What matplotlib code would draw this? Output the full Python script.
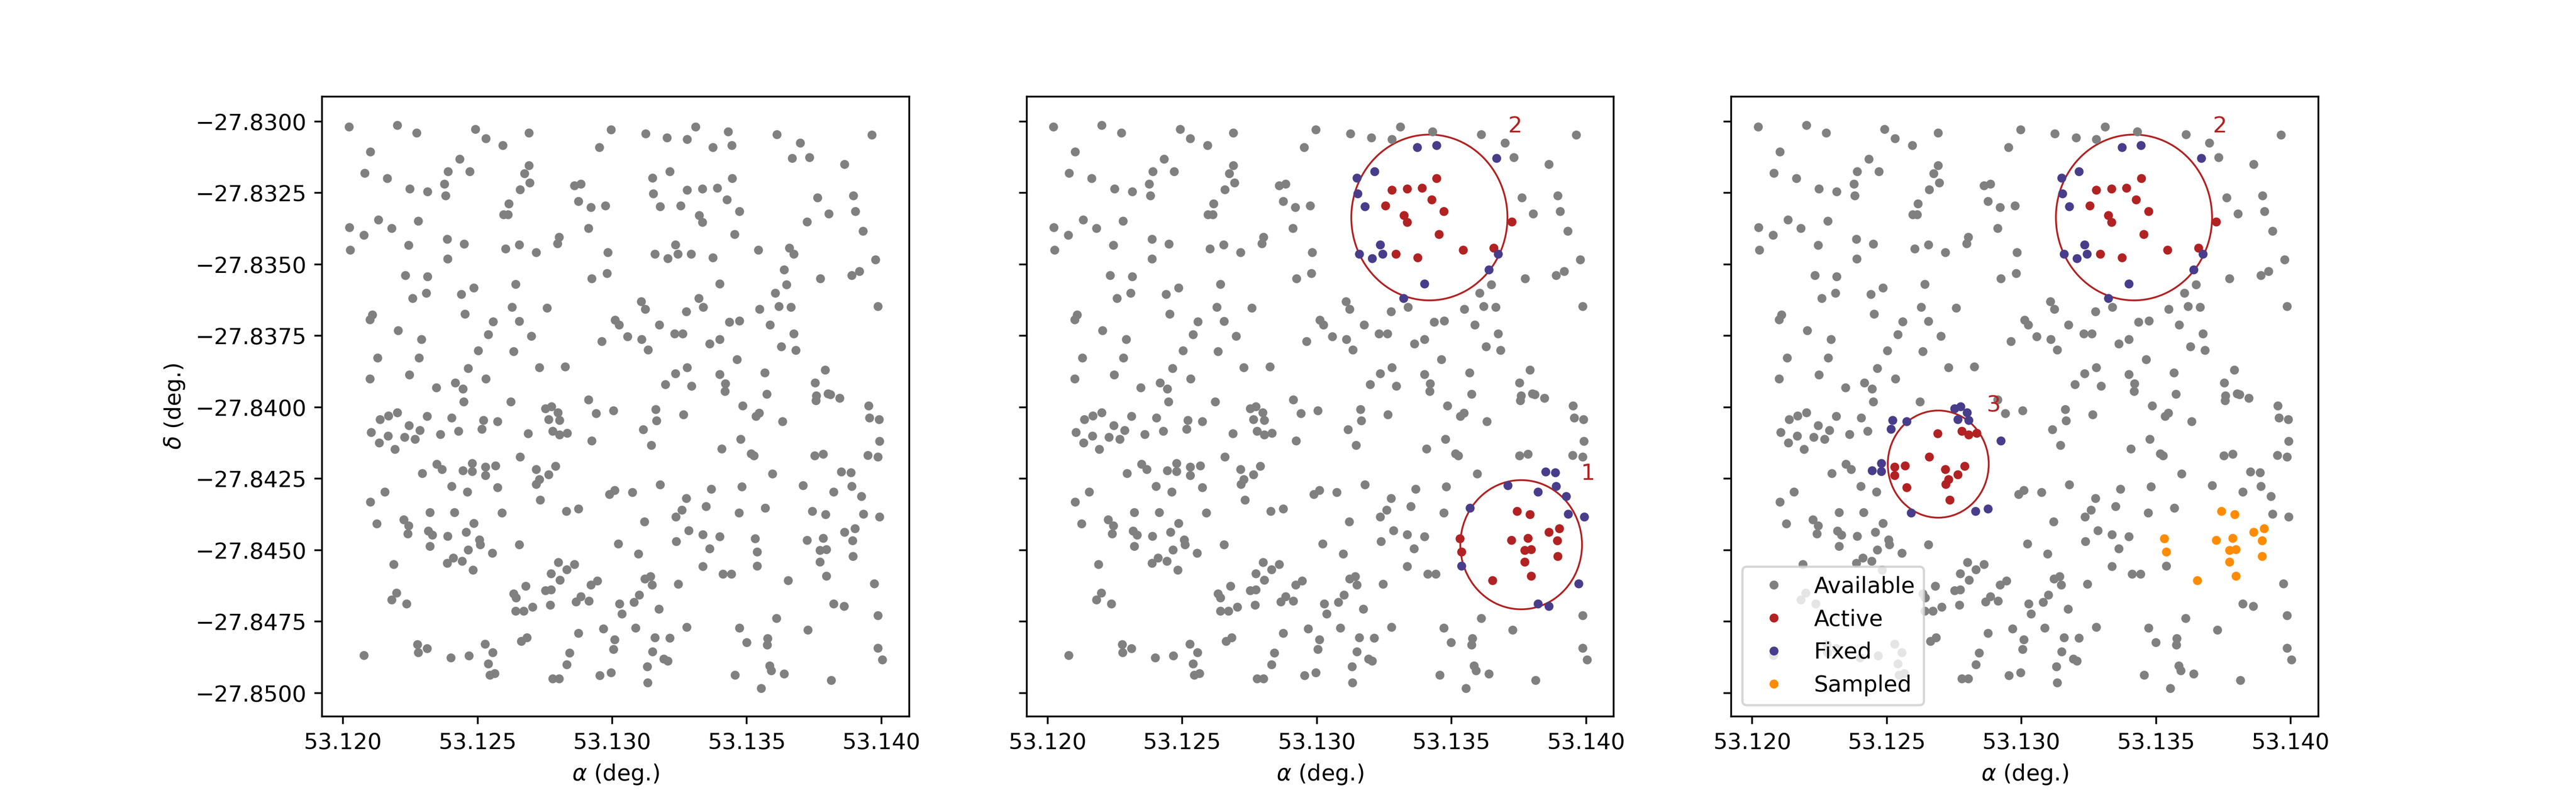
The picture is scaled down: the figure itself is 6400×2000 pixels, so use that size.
import numpy as np
import matplotlib
matplotlib.use("Agg")
import matplotlib.pyplot as plt
from matplotlib.patches import Circle
from matplotlib.ticker import ScalarFormatter

# ---- all sources (right ascension / declination, degrees) ----
ra = [
 53.12022,53.12201,53.12274,53.12492,53.12530,53.12594,53.12690,53.12952,53.12102,53.12433,
 53.12080,53.12164,53.12390,53.12470,53.12690,53.12674,53.12694,53.12658,53.12248,53.12314,
 53.12377,53.12381,53.12860,53.12884,53.12616,53.12596,53.12613,53.12875,53.12920,53.12975,
 53.12023,53.12077,53.12132,53.12181,53.12280,53.12026,53.12244,53.12387,53.12450,53.12388,
 53.12603,53.12654,53.12717,53.12802,53.12796,53.12911,53.12232,53.12314,53.12258,53.12309,
 53.12440,53.12486,53.12641,53.12924,53.12980,53.12109,53.12100,53.12453,53.12204,53.12292,
 53.12558,53.12540,53.12628,53.12655,53.12758,53.12700,53.12961,53.12129,53.12282,53.12502,
 53.12633,53.12729,53.12825,53.12100,53.12247,53.12346,53.12417,53.12445,53.12464,53.12531,
 53.12449,53.12623,53.12912,
 53.12996,53.13124,53.13203,53.13278,53.13310,53.13373,53.13430,53.13444,53.13611,53.13698,
 53.13668,53.13732,53.13862,53.13964,53.13214,53.13149,53.13152,53.13178,53.13254,53.13278,
 53.13335,53.13390,53.13445,53.13426,53.13472,53.13323,53.13335,53.13454,53.13762,53.13895,
 53.13804,53.13903,53.13724,53.13932,53.12983,53.13158,53.13206,53.13235,53.13244,53.13293,
 53.13374,53.13543,53.13657,53.13674,53.13978,53.13639,53.13773,53.13889,53.13918,53.13399,
 53.13648,53.13605,53.13108,53.13122,53.13322,53.13338,53.13275,53.13547,53.13619,53.13664,
 53.13987,53.13011,53.13025,53.13175,53.13435,53.13473,53.13586,53.13057,53.13109,53.13133,
 53.13231,53.13262,53.13362,53.13399,53.13674,53.13628,53.13682,53.13463,53.13235,53.13278,
 53.13399,53.13198,53.13295,53.13420,53.13419,53.13567,53.13574,53.13791,53.13753,53.13758,
 53.13756,53.13801,53.13810,53.13845,
 53.12201,53.12137,53.12168,53.12105,53.12167,53.12134,53.12192,53.12245,53.12286,53.12312,
 53.12228,53.12268,53.12361,53.12404,53.12429,53.12521,53.12574,53.12516,53.12688,53.12752,
 53.12774,53.12798,53.12764,53.12804,53.12778,53.12804,53.12833,53.12940,53.12923,53.12658,
 53.12348,53.12368,53.12295,53.12445,53.12479,53.12479,53.12529,53.12529,53.12567,53.12717,
 53.12729,53.12718,53.12764,53.12789,53.12403,53.12461,53.12574,53.12155,53.12102,53.12733,
 53.12322,53.12414,53.12590,53.12829,53.12875,53.12126,53.12225,53.12244,53.12240,53.12317,
 53.12332,53.12322,53.12389,53.12457,53.12486,53.12507,53.12510,53.12465,53.12555,53.12655,
 53.12188,53.12387,53.12410,53.12443,53.12483,53.12800,53.12860,53.12773,53.12831,53.12805,
 53.12679,53.12633,53.12642,53.12752,53.12773,53.12921,53.12945,53.12199,53.12181,53.12236,
 53.12641,53.12671,53.12704,53.12770,53.12866,53.12884,53.12913,53.12967,53.12875,53.12662,
 53.12683,53.12277,53.12279,53.12312,53.12078,53.12400,53.12467,53.12528,53.12556,53.12540,
 53.12545,53.12564,53.12842,53.12831,53.12778,53.12802,53.12954,
 53.13004,53.13162,53.13165,53.13264,53.13115,53.13145,53.13485,53.13546,53.13533,53.13632,
 53.13952,53.13956,53.13991,53.13992,53.13477,53.13407,53.13515,53.13526,53.13752,53.13784,
 53.13950,53.13987,53.13595,53.13850,53.13886,53.12989,53.13009,53.13074,53.13178,53.13367,
 53.13481,53.13709,53.13822,53.13889,53.13926,53.13275,53.13349,53.13259,53.13236,53.13120,
 53.13471,53.13568,53.13743,53.13792,53.13933,53.13993,53.13284,53.13336,53.13399,53.13238,
 53.13361,53.13531,53.13538,53.13538,53.13723,53.13784,53.13772,53.13796,53.13772,53.13862,
 53.13901,53.13893,53.13894,53.13022,53.13097,53.13336,53.13411,53.13442,53.13796,53.13653,
 53.13973,53.13121,53.13142,53.13148,53.13245,53.13100,53.13080,53.13027,53.13036,53.13173,
 53.13822,53.13861,53.13610,53.13987,53.13087,53.13277,53.13472,53.13727,53.13009,53.13004,
 53.13158,53.13213,53.13149,53.13192,53.13206,53.13499,53.13577,53.13575,53.13987,53.14003,
 53.13130,53.12996,53.13132,53.13456,53.13584,53.13591,53.13639,53.13553,53.13813,
]
dec = [
 -27.83019,-27.83013,-27.83040,-27.83027,-27.83060,-27.83083,-27.83040,-27.83091,-27.83106,-27.83131,
 -27.83181,-27.83199,-27.83175,-27.83175,-27.83154,-27.83182,-27.83215,-27.83238,-27.83236,-27.83246,
 -27.83219,-27.83259,-27.83224,-27.83218,-27.83287,-27.83325,-27.83325,-27.83279,-27.83300,-27.83295,
 -27.83371,-27.83398,-27.83344,-27.83373,-27.83348,-27.83450,-27.83433,-27.83411,-27.83429,-27.83480,
 -27.83445,-27.83432,-27.83458,-27.83404,-27.83427,-27.83373,-27.83539,-27.83543,-27.83618,-27.83601,
 -27.83605,-27.83582,-27.83570,-27.83550,-27.83532,-27.83677,-27.83693,-27.83674,-27.83731,-27.83762,
 -27.83700,-27.83746,-27.83649,-27.83699,-27.83652,-27.83751,-27.83769,-27.83827,-27.83827,-27.83802,
 -27.83804,-27.83861,-27.83858,-27.83900,-27.83886,-27.83931,-27.83915,-27.83935,-27.83864,-27.83900,
 -27.83980,-27.83981,-27.83973,
 -27.83029,-27.83042,-27.83056,-27.83062,-27.83019,-27.83091,-27.83035,-27.83084,-27.83046,-27.83075,
 -27.83128,-27.83125,-27.83150,-27.83047,-27.83175,-27.83197,-27.83253,-27.83298,-27.83294,-27.83240,
 -27.83235,-27.83233,-27.83199,-27.83274,-27.83315,-27.83328,-27.83352,-27.83395,-27.83266,-27.83260,
 -27.83323,-27.83315,-27.83351,-27.83384,-27.83458,-27.83463,-27.83479,-27.83432,-27.83463,-27.83464,
 -27.83477,-27.83450,-27.83443,-27.83463,-27.83484,-27.83519,-27.83550,-27.83539,-27.83524,-27.83568,
 -27.83571,-27.83601,-27.83630,-27.83656,-27.83618,-27.83649,-27.83665,-27.83657,-27.83647,-27.83650,
 -27.83647,-27.83694,-27.83711,-27.83712,-27.83702,-27.83698,-27.83711,-27.83753,-27.83762,-27.83799,
 -27.83743,-27.83743,-27.83778,-27.83762,-27.83743,-27.83787,-27.83800,-27.83833,-27.83882,-27.83861,
 -27.83885,-27.83920,-27.83926,-27.83917,-27.83944,-27.83879,-27.83954,-27.83869,-27.83915,-27.83960,
 -27.83976,-27.83953,-27.83955,-27.83968,
 -27.84018,-27.84043,-27.84030,-27.84087,-27.84101,-27.84124,-27.84147,-27.84063,-27.84080,-27.84032,
 -27.84105,-27.84112,-27.84094,-27.84037,-27.84083,-27.84046,-27.84049,-27.84077,-27.84092,-27.84005,
 -27.83998,-27.84019,-27.84042,-27.84045,-27.84084,-27.84096,-27.84090,-27.84022,-27.84117,-27.84173,
 -27.84199,-27.84217,-27.84231,-27.84222,-27.84196,-27.84224,-27.84209,-27.84239,-27.84205,-27.84217,
 -27.84253,-27.84269,-27.84236,-27.84206,-27.84276,-27.84296,-27.84281,-27.84296,-27.84332,-27.84324,
 -27.84368,-27.84368,-27.84370,-27.84363,-27.84355,-27.84407,-27.84393,-27.84414,-27.84443,-27.84433,
 -27.84447,-27.84486,-27.84451,-27.84437,-27.84406,-27.84464,-27.84481,-27.84499,-27.84510,-27.84481,
 -27.84550,-27.84545,-27.84527,-27.84538,-27.84569,-27.84542,-27.84550,-27.84582,-27.84568,-27.84604,
 -27.84625,-27.84653,-27.84667,-27.84641,-27.84638,-27.84622,-27.84607,-27.84650,-27.84673,-27.84687,
 -27.84713,-27.84713,-27.84699,-27.84692,-27.84680,-27.84662,-27.84678,-27.84775,-27.84790,-27.84819,
 -27.84806,-27.84830,-27.84858,-27.84844,-27.84868,-27.84876,-27.84870,-27.84828,-27.84858,-27.84897,
 -27.84937,-27.84932,-27.84859,-27.84901,-27.84950,-27.84950,-27.84938,
 -27.84012,-27.84008,-27.84047,-27.84025,-27.84078,-27.84133,-27.83995,-27.84020,-27.84032,-27.84049,
 -27.83995,-27.84037,-27.84043,-27.84119,-27.84112,-27.84145,-27.84162,-27.84170,-27.84170,-27.84164,
 -27.84168,-27.84174,-27.84233,-27.84225,-27.84229,-27.84305,-27.84290,-27.84298,-27.84271,-27.84286,
 -27.84278,-27.84273,-27.84296,-27.84277,-27.84311,-27.84318,-27.84347,-27.84359,-27.84383,-27.84400,
 -27.84369,-27.84353,-27.84363,-27.84375,-27.84373,-27.84383,-27.84432,-27.84446,-27.84453,-27.84469,
 -27.84494,-27.84460,-27.84506,-27.84555,-27.84465,-27.84458,-27.84501,-27.84497,-27.84541,-27.84437,
 -27.84424,-27.84466,-27.84521,-27.84478,-27.84513,-27.84556,-27.84584,-27.84584,-27.84590,-27.84606,
 -27.84617,-27.84600,-27.84592,-27.84622,-27.84619,-27.84657,-27.84682,-27.84688,-27.84723,-27.84706,
 -27.84688,-27.84696,-27.84738,-27.84728,-27.84772,-27.84770,-27.84772,-27.84779,-27.84813,-27.84847,
 -27.84806,-27.84807,-27.84855,-27.84881,-27.84888,-27.84823,-27.84809,-27.84832,-27.84842,-27.84883,
 -27.84907,-27.84928,-27.84963,-27.84937,-27.84904,-27.84922,-27.84933,-27.84983,-27.84955,
]

# ---- selection circles ----
circle_ra = [53.13759, 53.13418, 53.12691]
circle_dec = [-27.84481, -27.83336, -27.84199]
circle_r = [0.00226, 0.00290, 0.001875]
circle_labels = ["1", "2", "3"]

# ---- sources picked in each circle (matched to the nearest source) ----
active1_ra = [53.13743,53.13791,53.13861,53.13900,53.13892,53.13723,53.13783,53.13772,53.13794,53.13895,53.13773,53.13794,53.13653,53.13531,53.13538]
active1_dec = [-27.84364,-27.84377,-27.84438,-27.84425,-27.84467,-27.84466,-27.84459,-27.84502,-27.84498,-27.84522,-27.84542,-27.84591,-27.84607,-27.84462,-27.84507]
fixed1_ra = [53.13851,53.13886,53.13709,53.13822,53.13889,53.13924,53.13567,53.13933,53.13994,53.13538,53.13971,53.13821,53.13859]
fixed1_dec = [-27.84226,-27.84230,-27.84274,-27.84297,-27.84278,-27.84312,-27.84355,-27.84374,-27.84384,-27.84556,-27.84618,-27.84688,-27.84697]
active2_ra = [53.13445,53.13277,53.13335,53.13390,53.13425,53.13254,53.13472,53.13323,53.13335,53.13454,53.13725,53.13655,53.13541,53.13293,53.13374]
active2_dec = [-27.83200,-27.83240,-27.83235,-27.83233,-27.83274,-27.83294,-27.83315,-27.83327,-27.83352,-27.83395,-27.83350,-27.83443,-27.83450,-27.83464,-27.83477]
fixed2_ra = [53.13374,53.13444,53.13667,53.13213,53.13150,53.13151,53.13176,53.13233,53.13159,53.13206,53.13244,53.13674,53.13638,53.13399,53.13322]
fixed2_dec = [-27.83091,-27.83084,-27.83128,-27.83176,-27.83197,-27.83253,-27.83298,-27.83432,-27.83463,-27.83480,-27.83463,-27.83463,-27.83519,-27.83569,-27.83618]
active3_ra = [53.12685,53.12776,53.12802,53.12830,53.12655,53.12528,53.12564,53.12525,53.12715,53.12787,53.12761,53.12725,53.12716,53.12571,53.12730]
active3_dec = [-27.84094,-27.84086,-27.84099,-27.84092,-27.84174,-27.84210,-27.84207,-27.84241,-27.84218,-27.84208,-27.84238,-27.84254,-27.84270,-27.84282,-27.84325]
fixed3_ra = [53.12751,53.12772,53.12795,53.12761,53.12802,53.12520,53.12571,53.12513,53.12919,53.12476,53.12442,53.12476,53.12587,53.12825,53.12872]
fixed3_dec = [-27.84007,-27.84000,-27.84019,-27.84044,-27.84046,-27.84048,-27.84050,-27.84078,-27.84117,-27.84198,-27.84223,-27.84225,-27.84371,-27.84364,-27.84356]

xticks = [53.120, 53.125, 53.130, 53.135, 53.140]
yticks = [-27.8500, -27.8475, -27.8450, -27.8425, -27.8400, -27.8375, -27.8350, -27.8325, -27.8300]

C_AVAIL = "grey"
C_ACTIVE = "#B22222"
C_FIXED = "#483D8B"
C_SAMPLED = "#FF8C00"

ra = np.array(ra)
dec = np.array(dec)


def nearest(rs, ds):
    out = []
    for r, d in zip(rs, ds):
        out.append(int(np.argmin((ra - r) ** 2 + (dec - d) ** 2)))
    return out


a1 = nearest(active1_ra, active1_dec)
f1 = nearest(fixed1_ra, fixed1_dec)
a2 = nearest(active2_ra, active2_dec)
f2 = nearest(fixed2_ra, fixed2_dec)
a3 = nearest(active3_ra, active3_dec)
f3 = nearest(fixed3_ra, fixed3_dec)

panels = [
    dict(active=[], fixed=[], sampled=[], circles=[]),
    dict(active=a1 + a2, fixed=f1 + f2, sampled=[], circles=[0, 1]),
    dict(active=a2 + a3, fixed=f2 + f3, sampled=a1, circles=[1, 2]),
]

fig, axes = plt.subplots(1, 3, figsize=(16, 5), sharey=True)

for k, (ax, p) in enumerate(zip(axes, panels)):
    used = set(p["active"]) | set(p["fixed"]) | set(p["sampled"])
    avail = [i for i in range(len(ra)) if i not in used]
    for c in p["circles"]:
        ax.add_patch(Circle((circle_ra[c], circle_dec[c]), circle_r[c], fill=False,
                            edgecolor=C_ACTIVE, linewidth=0.8))
        ax.text(circle_ra[c] + 1.1 * circle_r[c], circle_dec[c] + 1.1 * circle_r[c],
                circle_labels[c], color=C_ACTIVE, fontsize=10, ha="center", va="center")
    ax.plot(ra[avail], dec[avail], ".", color=C_AVAIL, ls="none", label="Available")
    ax.plot(ra[p["active"]], dec[p["active"]], ".", color=C_ACTIVE, ls="none", label="Active")
    ax.plot(ra[p["fixed"]], dec[p["fixed"]], ".", color=C_FIXED, ls="none", label="Fixed")
    ax.plot(ra[p["sampled"]], dec[p["sampled"]], ".", color=C_SAMPLED, ls="none", label="Sampled")

    ax.set_xticks(xticks)
    ax.set_yticks(yticks)
    ax.set_xlim(53.11922, 53.14103)
    ax.set_ylim(-27.85082, -27.82913)
    ax.xaxis.set_major_formatter(ScalarFormatter(useOffset=False))
    ax.yaxis.set_major_formatter(ScalarFormatter(useOffset=False))
    ax.set_xticklabels([f"{t:.3f}" for t in xticks])
    ax.set_xlabel(r"$\alpha$ (deg.)")
    if k == 0:
        ax.set_yticklabels([f"{t:.4f}".replace("-", "\u2212") for t in yticks])
        ax.set_ylabel(r"$\delta$ (deg.)")
    if k == 2:
        ax.legend(loc="lower left")

fig.savefig("out.png", dpi=400)
